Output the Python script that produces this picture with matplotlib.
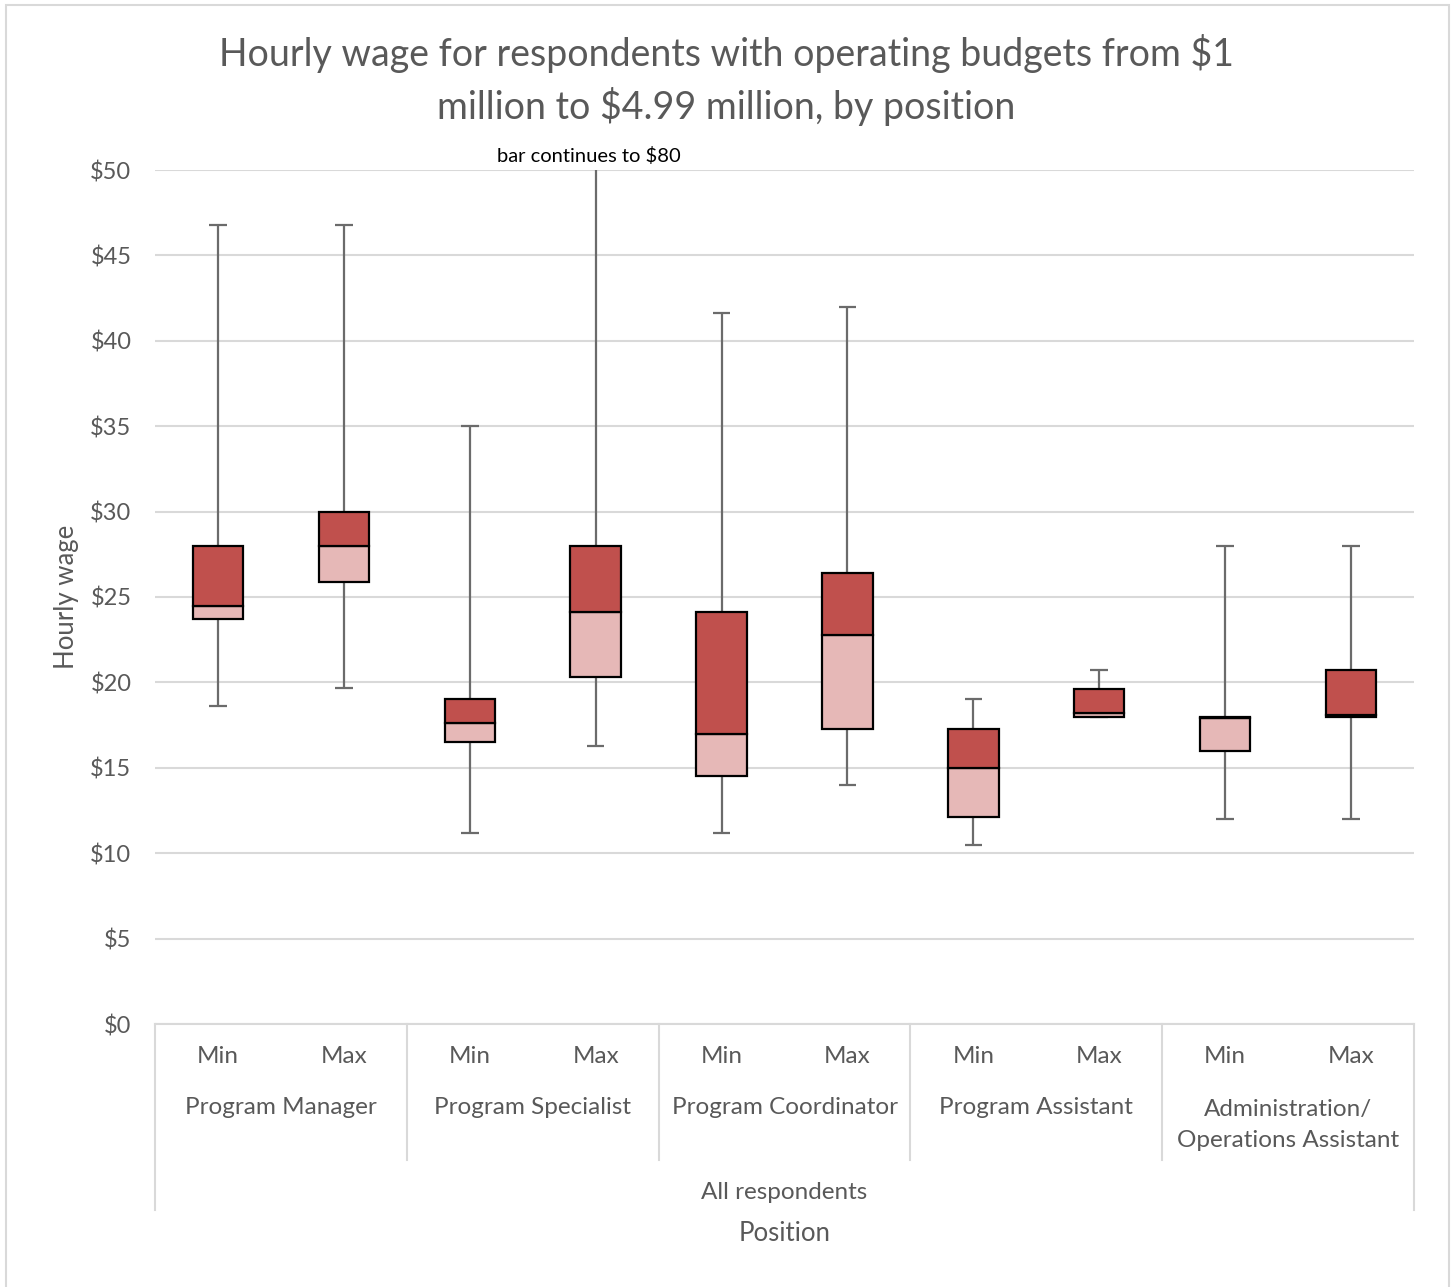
import matplotlib
matplotlib.use('Agg')
import matplotlib.pyplot as plt
from matplotlib.patches import Rectangle

plt.rcParams['font.family'] = ['Lato', 'DejaVu Sans']

# Hourly wage distribution, budgets $1M - $4.99M
positions = ['Program Manager', 'Program Specialist', 'Program Coordinator',
             'Program Assistant', 'Administration/\nOperations Assistant']
sub_labels = ['Min', 'Max']

whisker_low = [18.6, 19.7, 11.2, 16.3, 11.2, 14.0, 10.5, 18.0, 12.0, 12.0]
q1 = [23.7, 25.9, 16.5, 20.3, 14.5, 17.3, 12.1, 18.0, 16.0, 18.0]
median = [24.5, 28.0, 17.6, 24.1, 17.0, 22.8, 15.0, 18.2, 17.9, 18.1]
q3 = [28.0, 30.0, 19.0, 28.0, 24.1, 26.4, 17.3, 19.6, 18.0, 20.7]
whisker_high = [46.8, 46.8, 35.0, 80.0, 41.6, 42.0, 19.0, 20.7, 28.0, 28.0]

text_color = '#595959'
grid_color = '#D9D9D9'
light = '#E6B8B7'
dark = '#C0504D'

fig = plt.figure(figsize=(14.52, 12.87), dpi=100)
ax = fig.add_axes([155 / 1452, 1 - 1024 / 1287, 1259 / 1452, 854 / 1287])

x = [i + 0.5 for i in range(len(q1))]
box_w = 0.4
cap_w = 0.14

for i, xi in enumerate(x):
    # whiskers and caps
    ax.vlines(xi, whisker_low[i], q1[i], color='#6b6b6b', lw=1.6, zorder=2)
    ax.vlines(xi, q3[i], whisker_high[i], color='#6b6b6b', lw=1.6, zorder=2)
    ax.hlines(whisker_low[i], xi - cap_w / 2, xi + cap_w / 2, color='#6b6b6b', lw=1.6, zorder=2)
    ax.hlines(whisker_high[i], xi - cap_w / 2, xi + cap_w / 2, color='#6b6b6b', lw=1.6, zorder=2)

# two-tone boxes: Q1-median and median-Q3
ax.bar(x, [m - a for m, a in zip(median, q1)], bottom=q1, width=box_w,
       color=light, edgecolor='black', linewidth=1.6, zorder=3)
ax.bar(x, [b - m for b, m in zip(q3, median)], bottom=median, width=box_w,
       color=dark, edgecolor='black', linewidth=1.6, zorder=3)

ax.set_xlim(0, 10)
ax.set_ylim(0, 50)
ax.set_yticks(range(0, 51, 5))
ax.set_yticklabels(['$%d' % v for v in range(0, 51, 5)], color=text_color, fontsize=17)
ax.tick_params(axis='y', length=0, pad=17)
ax.set_xticks([])
ax.yaxis.grid(True, color=grid_color, lw=1.5)
ax.set_axisbelow(True)
for s in ['top', 'right', 'left']:
    ax.spines[s].set_visible(False)
ax.spines['bottom'].set_color(grid_color)
ax.spines['bottom'].set_linewidth(1.5)

ax.text(x[3] - 0.05, 50.3, 'bar continues to $80', ha='center', va='bottom', fontsize=14.5,
        color='black')

# multi-level category axis
tr = ax.get_xaxis_transform()
for i, xi in enumerate(x):
    ax.text(xi, -0.038, sub_labels[i % 2], transform=tr, ha='center', va='center',
            fontsize=17.5, color=text_color)
for g, name in enumerate(positions):
    yy = -0.118 if '\n' in name else -0.098
    ax.text(2 * g + 1, yy, name, transform=tr, ha='center', va='center',
            fontsize=17.5, color=text_color, linespacing=1.6)
for b in range(6):
    y_end = -0.218 if b in (0, 5) else -0.159
    ax.plot([2 * b, 2 * b], [0, y_end], transform=tr, color=grid_color, lw=1.5, clip_on=False)
ax.text(5, -0.197, 'All respondents', transform=tr, ha='center', va='center',
        fontsize=17.5, color=text_color)
ax.text(5, -0.245, 'Position', transform=tr, ha='center', va='center',
        fontsize=18.5, color=text_color)

ax.set_ylabel('Hourly wage', fontsize=18.5, color=text_color, labelpad=8)

fig.text(0.5, 1 - 80 / 1287, 'Hourly wage for respondents with operating budgets from $1\nmillion to $4.99 million, by position',
         ha='center', va='center', fontsize=27, color=text_color, linespacing=1.45)

# chart frame
fig.patches.append(Rectangle((6 / 1452, -0.01), 1443 / 1452, 1 - 5 / 1287 + 0.01,
                             transform=fig.transFigure, fill=False,
                             edgecolor='#D9D9D9', lw=1.5))

fig.savefig('out.png', dpi=100)
